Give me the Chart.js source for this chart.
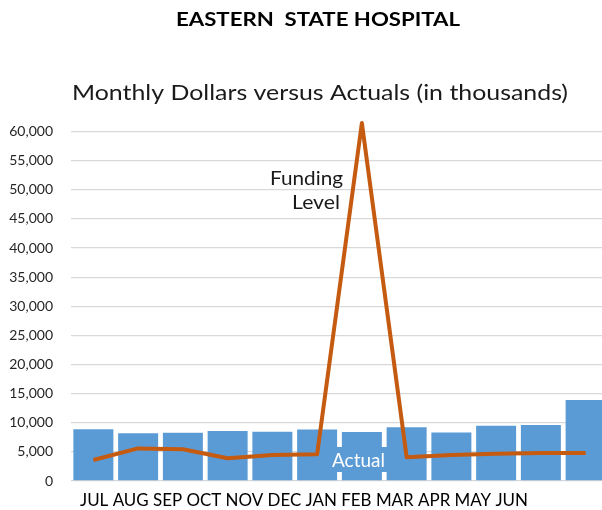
<!DOCTYPE html>
<html>
<head>
<meta charset="utf-8">
<script src="https://cdn.jsdelivr.net/npm/chart.js@4.4.0/dist/chart.umd.min.js"></script>
<style>
  html, body { margin: 0; padding: 0; overflow: hidden; background: #fff; }
  canvas { display: block; }
</style>
</head>
<body>
<canvas id="chart" width="608" height="510"></canvas>
<script>
// Values (thousands of dollars)
const months = ['JUL', 'AUG', 'SEP', 'OCT', 'NOV', 'DEC', 'JAN', 'FEB', 'MAR', 'APR', 'MAY', 'JUN'];
const actuals = [8900, 8200, 8300, 8600, 8450, 8850, 8400, 9250, 8350, 9500, 9600, 13900];
const funding = [3600, 5600, 5450, 3900, 4450, 4600, 61500, 4100, 4450, 4700, 4800, 4800];
const yTicks = [0, 5000, 10000, 15000, 20000, 25000, 30000, 35000, 40000, 45000, 50000, 55000, 60000];

// draw text squeezed to a given width
function fitText(ctx, text, left, baseline, width, font, color) {
  ctx.save();
  ctx.font = font;
  ctx.fillStyle = color;
  ctx.textAlign = 'left';
  ctx.textBaseline = 'alphabetic';
  const w = ctx.measureText(text).width;
  ctx.translate(left, baseline);
  ctx.scale(width / w, 1);
  ctx.fillText(text, 0, 0);
  ctx.restore();
}

// titles, month strip and the two callouts
const labels = {
  id: 'labels',
  afterDraw(chart) {
    const ctx = chart.ctx;
    fitText(ctx, 'EASTERN  STATE HOSPITAL', 176, 26, 284, 'bold 19.5px Lato', '#000');
    fitText(ctx, 'Monthly Dollars versus Actuals (in thousands)', 72, 100, 496, '21px Lato', '#1a1a1a');
    fitText(ctx, months.join(' '), 80, 506, 448, '17.5px Lato', '#000');
    fitText(ctx, 'Funding', 270, 185, 73, '18.5px Lato', '#1a1a1a');
    fitText(ctx, 'Level', 292, 209, 48, '18.5px Lato', '#1a1a1a');

    // "Actual" sits in a blue box over the bars
    ctx.save();
    ctx.fillStyle = '#5B9BD5';
    ctx.fillRect(330, 447, 60, 25);
    ctx.restore();
    fitText(ctx, 'Actual', 332, 467, 53, '20px Lato', '#fff');
  }
};

new Chart(document.getElementById('chart'), {
  type: 'bar',
  data: {
    labels: months,
    datasets: [
      {
        type: 'line',
        data: funding,
        borderColor: '#C55A11',
        borderWidth: 4,
        borderJoinStyle: 'round',
        pointRadius: 0,
        tension: 0,
        clip: false,
        order: 0
      },
      {
        data: actuals,
        backgroundColor: '#5B9BD5',
        barPercentage: 0.894,
        categoryPercentage: 1,
        order: 1
      }
    ]
  },
  options: {
    responsive: false,
    animation: false,
    layout: { padding: { top: 120, bottom: 29, left: 0, right: 0 } },
    plugins: {
      legend: { display: false },
      tooltip: { enabled: false }
    },
    scales: {
      x: { display: false },
      y: {
        min: 0,
        max: 62000,
        afterFit(scale) { scale.width = 71; },
        afterBuildTicks(scale) { scale.ticks = yTicks.map(v => ({ value: v })); },
        grid: { color: '#d9d9d9', lineWidth: 1.3, drawTicks: false },
        border: { display: false },
        ticks: {
          padding: 18,
          color: '#262626',
          font: { family: 'Lato', size: 14 },
          callback: v => v.toLocaleString('en-US')
        }
      }
    }
  },
  plugins: [labels]
});
</script>
</body>
</html>
